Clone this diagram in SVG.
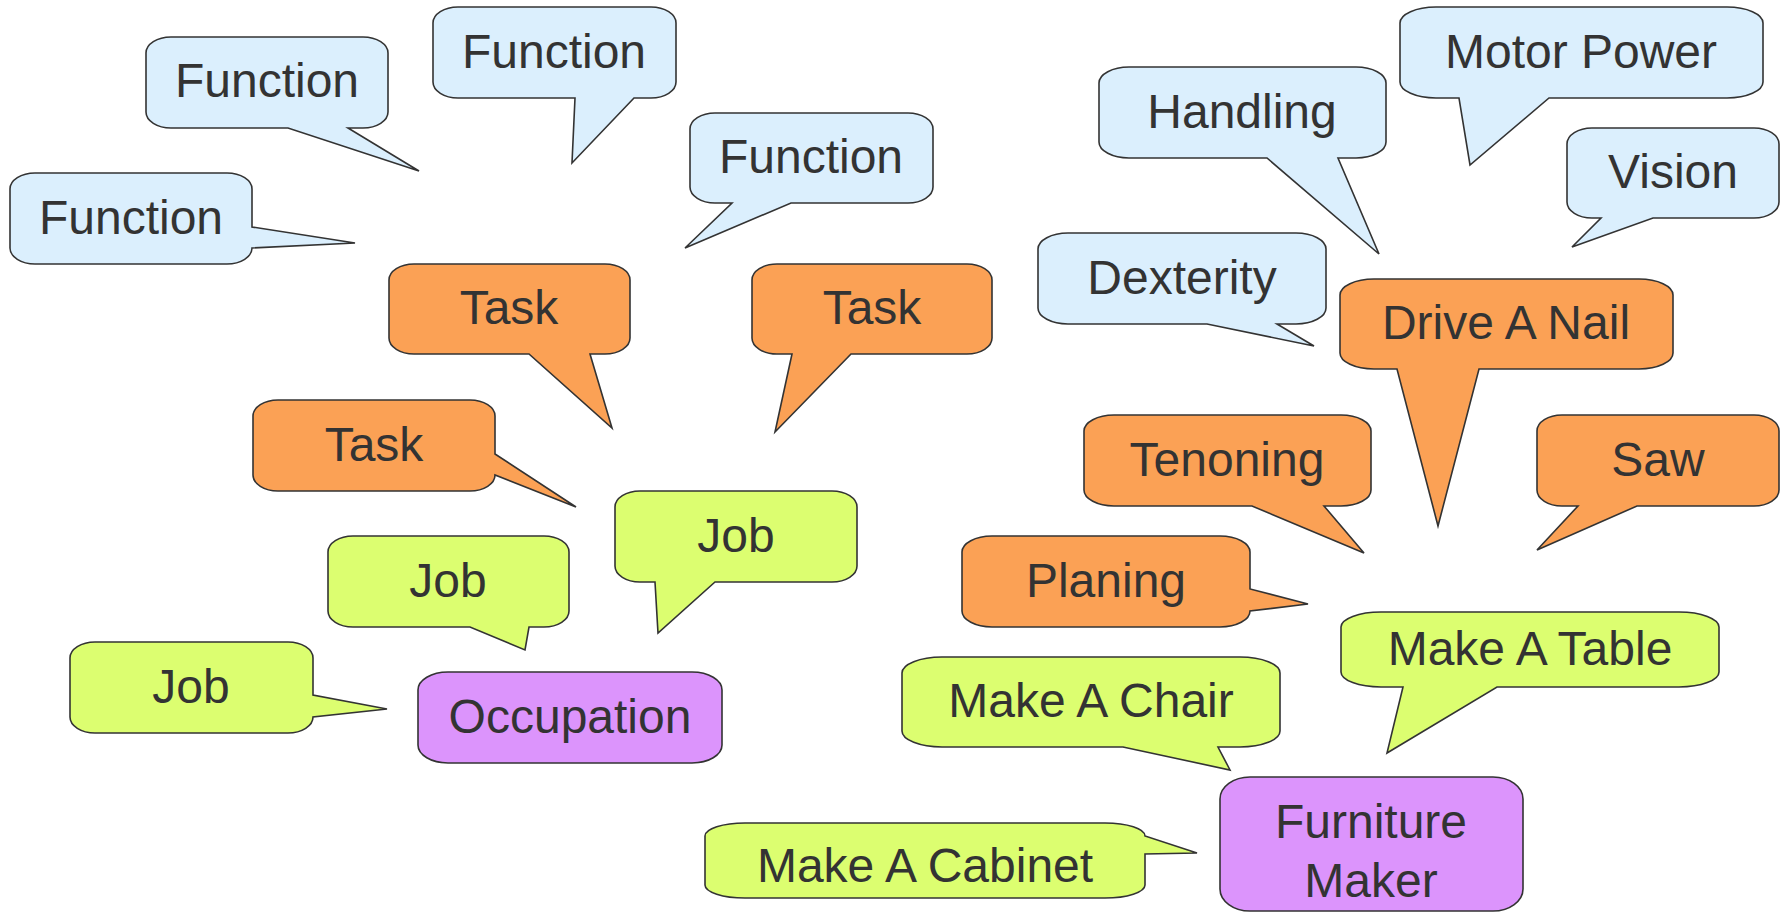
<svg xmlns="http://www.w3.org/2000/svg" width="1786" height="913" viewBox="0 0 1786 913">
<style>
.s{stroke:#333;stroke-width:1.6;stroke-linejoin:miter}
.b{fill:#dbeffd}.o{fill:#fba155}.g{fill:#dcfe70}.p{fill:#dc94fc}
text{font-family:"Liberation Sans",Arial,sans-serif;font-size:48px;fill:#333;text-anchor:middle}
</style>
<rect width="1786" height="913" fill="#fff"/>
<g id="function-a"><path class="s b" d="M171,37 H363 A25,16 0 0 1 388,53 V112 A25,16 0 0 1 363,128 H348 L419,171 L288,128 H171 A25,16 0 0 1 146,112 V53 A25,16 0 0 1 171,37 Z"/><text x="267" y="97">Function</text></g>
<g id="function-b"><path class="s b" d="M458,7 H651 A25,16 0 0 1 676,23 V82 A25,16 0 0 1 651,98 H634 L572,163 L575,98 H458 A25,16 0 0 1 433,82 V23 A25,16 0 0 1 458,7 Z"/><text x="554" y="68">Function</text></g>
<g id="function-c"><path class="s b" d="M35,173 H227 A25,16 0 0 1 252,189 V227 L355,243 L252,248 A25,16 0 0 1 227,264 H35 A25,16 0 0 1 10,248 V189 A25,16 0 0 1 35,173 Z"/><text x="131" y="234">Function</text></g>
<g id="function-d"><path class="s b" d="M715,113 H908 A25,16 0 0 1 933,129 V187 A25,16 0 0 1 908,203 H791 L685,248 L732,203 H715 A25,16 0 0 1 690,187 V129 A25,16 0 0 1 715,113 Z"/><text x="811" y="173">Function</text></g>
<g id="handling"><path class="s b" d="M1129,67 H1356 A30,16 0 0 1 1386,83 V142 A30,16 0 0 1 1356,158 H1338 L1379,254 L1267,158 H1129 A30,16 0 0 1 1099,142 V83 A30,16 0 0 1 1129,67 Z"/><text x="1242" y="128">Handling</text></g>
<g id="motor-power"><path class="s b" d="M1436,7 H1727 A36,16 0 0 1 1763,23 V82 A36,16 0 0 1 1727,98 H1549 L1470,165 L1459,98 H1436 A36,16 0 0 1 1400,82 V23 A36,16 0 0 1 1436,7 Z"/><text x="1581" y="68">Motor Power</text></g>
<g id="vision"><path class="s b" d="M1592,128 H1754 A25,16 0 0 1 1779,144 V202 A25,16 0 0 1 1754,218 H1653 L1572,247 L1601,218 H1592 A25,16 0 0 1 1567,202 V144 A25,16 0 0 1 1592,128 Z"/><text x="1673" y="188">Vision</text></g>
<g id="dexterity"><path class="s b" d="M1068,233 H1296 A30,16 0 0 1 1326,249 V308 A30,16 0 0 1 1296,324 H1277 L1314,346 L1207,324 H1068 A30,16 0 0 1 1038,308 V249 A30,16 0 0 1 1068,233 Z"/><text x="1182" y="294">Dexterity</text></g>
<g id="task-a"><path class="s o" d="M414,264 H605 A25,16 0 0 1 630,280 V338 A25,16 0 0 1 605,354 H590 L612,428 L529,354 H414 A25,16 0 0 1 389,338 V280 A25,16 0 0 1 414,264 Z"/><text x="509" y="324">Task</text></g>
<g id="task-b"><path class="s o" d="M777,264 H967 A25,16 0 0 1 992,280 V338 A25,16 0 0 1 967,354 H851 L775,432 L792,354 H777 A25,16 0 0 1 752,338 V280 A25,16 0 0 1 777,264 Z"/><text x="872" y="324">Task</text></g>
<g id="task-c"><path class="s o" d="M278,400 H470 A25,16 0 0 1 495,416 V454 L576,507 L495,475 A25,16 0 0 1 470,491 H278 A25,16 0 0 1 253,475 V416 A25,16 0 0 1 278,400 Z"/><text x="374" y="461">Task</text></g>
<g id="drive-a-nail"><path class="s o" d="M1374,279 H1639 A34,16 0 0 1 1673,295 V353 A34,16 0 0 1 1639,369 H1479 L1438,526 L1397,369 H1374 A34,16 0 0 1 1340,353 V295 A34,16 0 0 1 1374,279 Z"/><text x="1506" y="339">Drive A Nail</text></g>
<g id="tenoning"><path class="s o" d="M1114,415 H1341 A30,16 0 0 1 1371,431 V490 A30,16 0 0 1 1341,506 H1324 L1364,553 L1252,506 H1114 A30,16 0 0 1 1084,490 V431 A30,16 0 0 1 1114,415 Z"/><text x="1227" y="476">Tenoning</text></g>
<g id="saw"><path class="s o" d="M1562,415 H1754 A25,16 0 0 1 1779,431 V490 A25,16 0 0 1 1754,506 H1637 L1537,550 L1578,506 H1562 A25,16 0 0 1 1537,490 V431 A25,16 0 0 1 1562,415 Z"/><text x="1658" y="476">Saw</text></g>
<g id="planing"><path class="s o" d="M992,536 H1220 A30,16 0 0 1 1250,552 V589 L1308,604 L1250,611 A30,16 0 0 1 1220,627 H992 A30,16 0 0 1 962,611 V552 A30,16 0 0 1 992,536 Z"/><text x="1106" y="597">Planing</text></g>
<g id="job-a"><path class="s g" d="M640,491 H832 A25,16 0 0 1 857,507 V566 A25,16 0 0 1 832,582 H715 L658,633 L655,582 H640 A25,16 0 0 1 615,566 V507 A25,16 0 0 1 640,491 Z"/><text x="736" y="552">Job</text></g>
<g id="job-b"><path class="s g" d="M353,536 H544 A25,16 0 0 1 569,552 V611 A25,16 0 0 1 544,627 H529 L525,650 L470,627 H353 A25,16 0 0 1 328,611 V552 A25,16 0 0 1 353,536 Z"/><text x="448" y="597">Job</text></g>
<g id="job-c"><path class="s g" d="M95,642 H288 A25,16 0 0 1 313,658 V695 L387,709 L313,717 A25,16 0 0 1 288,733 H95 A25,16 0 0 1 70,717 V658 A25,16 0 0 1 95,642 Z"/><text x="191" y="703">Job</text></g>
<g id="make-a-chair"><path class="s g" d="M942,657 H1240 A40,16 0 0 1 1280,673 V731 A40,16 0 0 1 1240,747 H1218 L1230,770 L1123,747 H942 A40,16 0 0 1 902,731 V673 A40,16 0 0 1 942,657 Z"/><text x="1091" y="717">Make A Chair</text></g>
<g id="make-a-table"><path class="s g" d="M1381,612 H1679 A40,15 0 0 1 1719,627 V672 A40,15 0 0 1 1679,687 H1497 L1387,753 L1403,687 H1381 A40,15 0 0 1 1341,672 V627 A40,15 0 0 1 1381,612 Z"/><text x="1530" y="665">Make A Table</text></g>
<g id="make-a-cabinet"><path class="s g" d="M745,823 H1105 A40,13 0 0 1 1145,836 L1197,853 L1145,854 V885 A40,13 0 0 1 1105,898 H745 A40,13 0 0 1 705,885 V836 A40,13 0 0 1 745,823 Z"/><text x="925" y="882">Make A Cabinet</text></g>
<g id="occupation"><rect class="s p" x="418" y="672" width="304" height="91" rx="30" ry="18"/><text x="570" y="733">Occupation</text></g>
<g id="furniture-maker"><rect class="s p" x="1220" y="777" width="303" height="134" rx="30" ry="22"/><text x="1371" y="838">Furniture</text><text x="1371" y="897">Maker</text></g>
</svg>
